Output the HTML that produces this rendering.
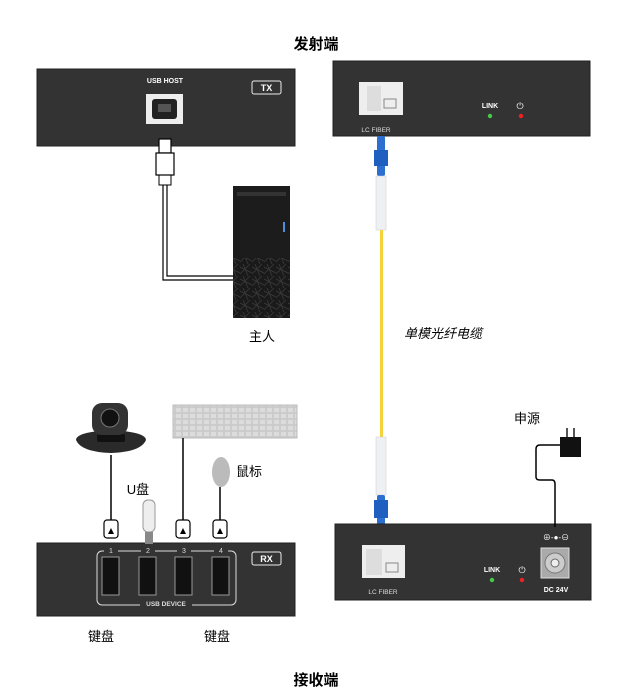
<!DOCTYPE html>
<html><head><meta charset="utf-8"><style>
body{margin:0;background:#fff}
svg{display:block;font-family:"Liberation Sans","Noto Sans CJK SC",sans-serif}
</style></head><body>
<svg width="635" height="696" viewBox="0 0 635 696">
<defs>
<pattern id="mesh" width="12" height="12" patternUnits="userSpaceOnUse">
<rect width="12" height="12" fill="#1a1a1a"/>
<path d="M0 3L12 9M3 0L8 12M0 10L10 0" stroke="#3a3a3a" stroke-width="0.8"/>
</pattern>
<pattern id="keys" width="7" height="6" patternUnits="userSpaceOnUse" x="175" y="407">
<rect width="7" height="6" fill="#d0d0d0"/>
<rect x="0.5" y="0.5" width="6" height="5" fill="#dcdcdc" stroke="#c2c2c2" stroke-width=".5"/>
</pattern>
</defs>
<text x="316" y="49" font-size="15" font-weight="bold" text-anchor="middle">发射端</text>
<text x="316" y="685" font-size="15" font-weight="bold" text-anchor="middle">接收端</text>

<!-- TX box -->
<rect x="37" y="69" width="258" height="77" fill="#333" stroke="#222"/>
<text x="165" y="83" font-size="7" fill="#fff" text-anchor="middle" font-weight="bold">USB HOST</text>
<rect x="252" y="81" width="29" height="13" rx="2" fill="none" stroke="#eee"/>
<text x="266.5" y="91" font-size="9" fill="#fff" text-anchor="middle" font-weight="bold">TX</text>
<rect x="146" y="94" width="37" height="30" fill="#eee"/>
<rect x="152" y="99" width="25" height="20" rx="3" fill="#222"/>
<rect x="158" y="104" width="13" height="8" fill="#555"/>
<!-- USB B plug -->
<rect x="159" y="139" width="12" height="14" fill="#fff" stroke="#000" stroke-width="1.2"/>
<rect x="156" y="153" width="18" height="22" fill="#fff" stroke="#000" stroke-width="1.2"/>
<path d="M159 175v10h12v-10" fill="none" stroke="#000"/>
<path d="M163 185V280H235M167 185V276H235" fill="none" stroke="#000" stroke-width="1.2"/>
<!-- PC -->
<rect x="233" y="186" width="57" height="132" fill="#1c1c1c"/>
<rect x="237" y="192" width="49" height="4" fill="#333"/>
<rect x="283" y="222" width="2" height="10" fill="#4a8fe0"/>
<rect x="233" y="258" width="57" height="60" fill="url(#mesh)"/>
<text x="262" y="341" font-size="13" text-anchor="middle">主人</text>

<!-- top right box -->
<rect x="333" y="61" width="257" height="75" fill="#333" stroke="#222"/>
<rect x="359" y="82" width="44" height="33" fill="#eee"/>
<rect x="367" y="86" width="14" height="25" fill="#ddd"/>
<rect x="384" y="99" width="12" height="9" fill="none" stroke="#888"/>
<text x="376" y="132" font-size="6.5" fill="#ddd" text-anchor="middle">LC FIBER</text>
<text x="490" y="108" font-size="7" fill="#fff" text-anchor="middle" font-weight="bold">LINK</text>
<circle cx="490" cy="116" r="2.2" fill="#4c4"/>
<text x="520" y="109" font-size="9" fill="#fff" text-anchor="middle">⏻</text>
<circle cx="521" cy="116" r="2.2" fill="#e22"/>

<!-- fiber -->
<rect x="377" y="136" width="8" height="40" rx="2" fill="#2b6fd0"/>
<rect x="374" y="150" width="14" height="16" fill="#1f5fc0"/>
<rect x="376" y="176" width="10" height="54" fill="#eef0f4" stroke="#ccc" stroke-width=".5"/>
<rect x="380" y="230" width="3" height="207" fill="#f5d23a"/>
<text x="443" y="338" font-size="13" font-style="italic" text-anchor="middle">单模光纤电缆</text>
<rect x="376" y="437" width="10" height="58" fill="#eef0f4" stroke="#ccc" stroke-width=".5"/>
<rect x="377" y="495" width="8" height="33" rx="2" fill="#2b6fd0"/>
<rect x="374" y="500" width="14" height="18" fill="#1f5fc0"/>

<!-- bottom right box -->
<rect x="335" y="524" width="256" height="76" fill="#333" stroke="#222"/>
<rect x="362" y="545" width="43" height="33" fill="#eee"/>
<rect x="366" y="549" width="16" height="26" fill="#ddd"/>
<rect x="386" y="563" width="12" height="9" fill="none" stroke="#888"/>
<text x="383" y="594" font-size="6.5" fill="#ddd" text-anchor="middle">LC FIBER</text>
<text x="492" y="572" font-size="7" fill="#fff" text-anchor="middle" font-weight="bold">LINK</text>
<circle cx="492" cy="580" r="2.2" fill="#4c4"/>
<text x="522" y="573" font-size="9" fill="#fff" text-anchor="middle">⏻</text>
<circle cx="522" cy="580" r="2.2" fill="#e22"/>
<text x="556" y="540" font-size="8" fill="#fff" text-anchor="middle">⊕-●-⊖</text>
<rect x="541" y="548" width="28" height="30" fill="#aaa" stroke="#ddd"/>
<circle cx="555" cy="563" r="10" fill="#ccc" stroke="#777"/>
<circle cx="555" cy="563" r="4" fill="#eee" stroke="#666"/>
<text x="556" y="592" font-size="7" fill="#fff" text-anchor="middle" font-weight="bold">DC 24V</text>

<!-- power -->
<text x="527" y="423" font-size="13" text-anchor="middle">申源</text>
<rect x="560" y="437" width="21" height="20" fill="#111"/>
<rect x="566" y="428" width="2" height="9" fill="#555"/><rect x="573" y="428" width="2" height="9" fill="#555"/>
<path d="M560 445H540q-4 0-4 4V477q0 3 4 3H552q3 0 3 4V527" fill="none" stroke="#000" stroke-width="1.5"/>

<!-- RX box -->
<rect x="37" y="543" width="258" height="73" fill="#333" stroke="#222"/>
<rect x="97" y="551" width="139" height="54" rx="5" fill="none" stroke="#ddd" stroke-width="1"/>
<rect x="140" y="598" width="52" height="10" fill="#333"/>
<text x="166" y="606" font-size="6.5" fill="#ddd" text-anchor="middle" font-weight="bold">USB DEVICE</text>
<g fill="#333"><rect x="104" y="546" width="14" height="9"/><rect x="141" y="546" width="14" height="9"/><rect x="177" y="546" width="14" height="9"/><rect x="214" y="546" width="14" height="9"/></g>
<g font-size="7" fill="#ddd" text-anchor="middle"><text x="111" y="553">1</text><text x="148" y="553">2</text><text x="184" y="553">3</text><text x="221" y="553">4</text></g>
<g fill="#111" stroke="#999" stroke-width="1">
<rect x="102" y="557" width="17" height="38"/><rect x="139" y="557" width="17" height="38"/><rect x="175" y="557" width="17" height="38"/><rect x="212" y="557" width="17" height="38"/></g>
<rect x="252" y="552" width="29" height="13" rx="2" fill="none" stroke="#eee"/>
<text x="266.5" y="562" font-size="9" fill="#fff" text-anchor="middle" font-weight="bold">RX</text>

<!-- devices -->
<path d="M76 440q0-8 35-10q35 2 35 10q-5 12-35 13q-30-1-35-13z" fill="#2a2a2a"/>
<rect x="97" y="434" width="28" height="8" rx="2" fill="#111"/>
<rect x="92" y="403" width="36" height="32" rx="10" fill="#333"/>
<circle cx="110" cy="418" r="9" fill="#111" stroke="#777"/>
<rect x="173" y="405" width="124" height="33" fill="url(#keys)" stroke="#bbb"/>
<ellipse cx="221" cy="472" rx="9" ry="15" fill="#bbb"/>
<text x="236" y="476" font-size="13">鼠标</text>
<text x="138" y="494" font-size="13" text-anchor="middle">U盘</text>
<rect x="143" y="500" width="12" height="32" rx="5" fill="#eee" stroke="#999"/>
<rect x="145" y="532" width="8" height="12" fill="#888"/>
<g stroke="#000" stroke-width="1.5"><path d="M111 455V520M183 438V520M220 487V520"/></g>
<g fill="#fff" stroke="#000" stroke-width="1.2">
<rect x="104" y="520" width="14" height="18" rx="3"/><rect x="176" y="520" width="14" height="18" rx="3"/><rect x="213" y="520" width="14" height="18" rx="3"/>
</g>
<g fill="#000"><path d="M108 534h6l-3-6z"/><path d="M180 534h6l-3-6z"/><path d="M217 534h6l-3-6z"/></g>
<text x="101" y="641" font-size="13" text-anchor="middle">键盘</text>
<text x="217" y="641" font-size="13" text-anchor="middle">键盘</text>
</svg>
</body></html>
